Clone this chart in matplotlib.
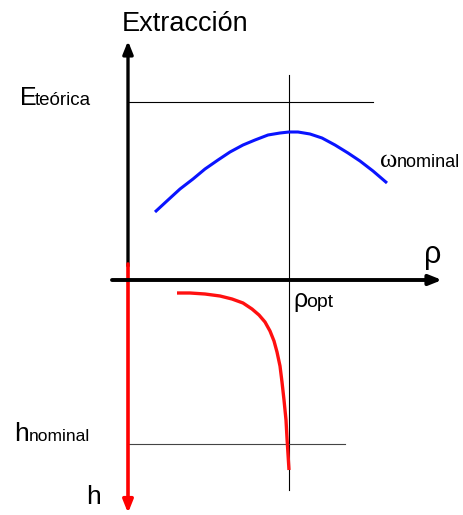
import numpy as np
import matplotlib.pyplot as plt

# schematic coordinates (image-like: x right, y down)
origin = (128, 280)

# extraction curve (blue) for nominal omega
blue_x = [155, 168, 180, 193, 205, 218, 230, 243, 255, 268, 280, 289, 298, 310, 322, 335, 348, 360, 373, 387]
blue_y = [212, 200, 189, 179, 169, 160, 152, 145, 140, 135, 133, 132, 132, 134, 138, 145, 153, 161, 171, 183]

# height curve (red)
red_x = [177, 190, 205, 220, 232, 243, 252, 259, 265, 270, 274, 277, 280, 282, 284, 286, 287, 288, 289]
red_y = [293, 293, 294, 296, 299, 303, 309, 315, 322, 331, 341, 352, 366, 382, 400, 420, 438, 454, 470]

rho_opt_x = 289
e_teorica_y = 102
h_nominal_y = 444

fig = plt.figure(figsize=(4.64, 5.15), dpi=100)
ax = fig.add_axes([0, 0, 1, 1])
ax.set_xlim(0, 464)
ax.set_ylim(515, 0)
ax.axis("off")

# reference lines
ax.plot([origin[0], 373], [e_teorica_y, e_teorica_y], color="black", lw=0.8)
ax.plot([rho_opt_x, rho_opt_x], [75, 490], color="black", lw=0.8)
ax.plot([origin[0], 345], [h_nominal_y, h_nominal_y], color="#444444", lw=0.8)

# curves
ax.plot(blue_x, blue_y, color="#0a14ff", lw=2.2, solid_capstyle="butt")
ax.plot(red_x, red_y, color="#ff1010", lw=2.4, solid_capstyle="butt")

# axes arrows
head = "-|>,head_length=0.75,head_width=0.3"
ax.annotate("", xy=(origin[0], 41), xytext=(origin[0], 266),
            arrowprops=dict(arrowstyle=head, color="black", lw=2.4,
                            shrinkA=0, shrinkB=0))
ax.annotate("", xy=(origin[0], 513), xytext=(origin[0], 264),
            annotation_clip=False,
            arrowprops=dict(arrowstyle=head, color="#ff0000", lw=2.6,
                            shrinkA=0, shrinkB=0))
ax.annotate("", xy=(442, origin[1]), xytext=(112, origin[1]),
            arrowprops=dict(arrowstyle=head, color="black", lw=2.8,
                            shrinkA=0, shrinkB=0))

# labels
sans = "Liberation Sans"
ax.text(185, 31, "Extracción", fontsize=19.5, family=sans, ha="center", va="baseline")
ax.text(20, 105, "E", fontsize=18, family=sans, ha="left", va="baseline")
ax.text(35, 105, "teórica", fontsize=13.5, family=sans, ha="left", va="baseline")
ax.text(380, 167, "ω", fontsize=19, family="Liberation Serif", ha="left", va="baseline")
ax.text(397, 167, "nominal", fontsize=13, family=sans, ha="left", va="baseline")
ax.text(424, 263, "ρ", fontsize=22, family=sans, ha="left", va="baseline")
ax.text(293, 307, "ρ", fontsize=18, family=sans, ha="left", va="baseline")
ax.text(306, 307, "opt", fontsize=14, family=sans, ha="left", va="baseline")
ax.text(14, 441, "h", fontsize=19, family=sans, ha="left", va="baseline")
ax.text(29, 441, "nominal", fontsize=12.5, family=sans, ha="left", va="baseline")
ax.text(86, 504, "h", fontsize=19, family=sans, ha="left", va="baseline")

fig.savefig("out.png", dpi=100)
